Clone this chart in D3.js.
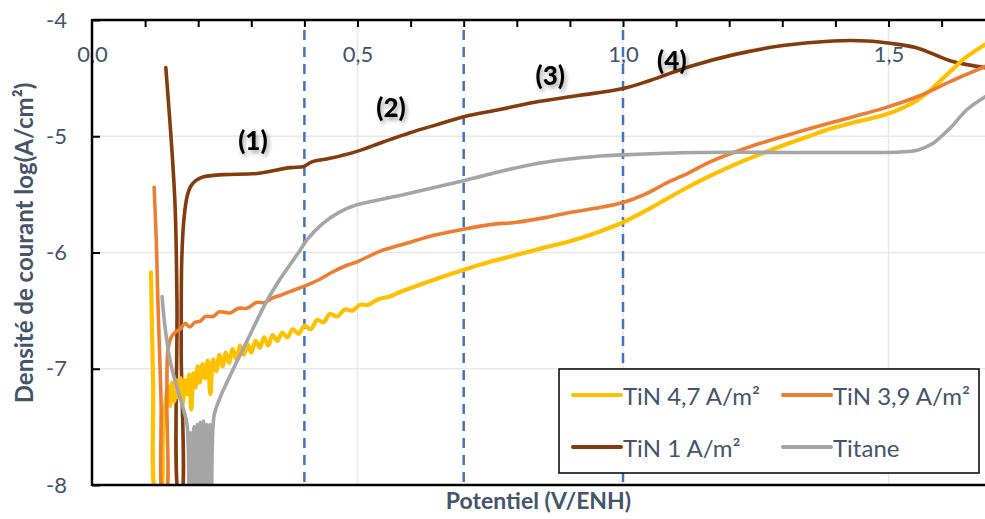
<!DOCTYPE html>
<html><head><meta charset="utf-8">
<script src="https://cdn.jsdelivr.net/npm/d3@7"></script>
<style>body{margin:0;background:#fff}svg{display:block}text{font-family:Lato,"Open Sans",sans-serif}</style>
</head><body><svg id="chart" width="985" height="519"></svg>
<script>
// ---------- data ----------
const xMinorTicks = [0.1,0.2,0.3,0.4,0.5,0.6,0.7,0.8,0.9,1.0,1.1,1.2,1.3,1.4,1.5,1.6];
const xTicks = [0, 0.5, 1.0, 1.5];
const xTickLabels = ["0,0", "0,5", "1,0", "1,5"];
const yTicks = [-8, -7, -6, -5, -4];
const yTickLabels = ["-8", "-7", "-6", "-5", "-4"];
const seriesNames = ["TiN 4,7 A/m²", "TiN 3,9 A/m²", "TiN 1 A/m²", "Titane"];
const dashedPotentials = [0.4, 0.7, 1.0];
const zoneLabels = ["(1)", "(2)", "(3)", "(4)"];
const zoneX = [0.303, 0.563, 0.863, 1.092];
const zoneY = [-5.03, -4.75, -4.47, -4.34];

const tin47 = [
  [0.111,-6.17],[0.115,-7.10],[0.121,-8.1],[0.128,-8.1],[0.134,-7.53],[0.139,-7.27],
  [0.143,-7.15],[0.147,-7.32],[0.151,-7.12],[0.155,-7.28],[0.159,-7.10],[0.163,-7.25],
  [0.167,-7.08],[0.171,-7.30],[0.175,-7.10],[0.179,-7.22],[0.183,-7.05],[0.187,-7.35],
  [0.191,-7.04],[0.195,-7.16],[0.199,-6.98],[0.203,-7.12],[0.208,-6.96],[0.213,-7.08],
  [0.218,-6.93],[0.223,-7.22],[0.228,-6.92],[0.234,-7.02],[0.240,-6.88],[0.246,-6.98],
  [0.252,-6.86],[0.258,-6.95],[0.265,-6.83],[0.272,-6.92],[0.279,-6.80],[0.286,-6.88],
  [0.293,-6.79],[0.300,-6.86],[0.308,-6.76],[0.316,-6.82],[0.324,-6.73],[0.332,-6.80],
  [0.340,-6.71],[0.349,-6.76],[0.358,-6.69],[0.368,-6.73],[0.378,-6.66],[0.389,-6.70],
  [0.400,-6.63],[0.412,-6.66],[0.424,-6.58],[0.436,-6.60],[0.448,-6.53],[0.462,-6.55],
  [0.476,-6.49],[0.490,-6.50],[0.505,-6.45],[0.520,-6.45],[0.540,-6.40],[0.560,-6.38],
  [0.580,-6.34],[0.640,-6.24],[0.699,-6.15],[0.750,-6.08],[0.800,-6.02],[0.850,-5.96],
  [0.895,-5.91],[0.950,-5.83],[1.000,-5.74],[1.051,-5.62],[1.113,-5.46],[1.160,-5.35],
  [1.207,-5.25],[1.255,-5.16],[1.301,-5.08],[1.350,-5.00],[1.395,-4.93],[1.445,-4.87],
  [1.490,-4.82],[1.525,-4.76],[1.554,-4.69],[1.580,-4.60],[1.603,-4.50],[1.622,-4.42],
  [1.640,-4.34],[1.682,-4.21]
];
const tin39 = [
  [0.117,-5.44],[0.121,-5.89],[0.124,-6.41],[0.130,-7.27],[0.134,-8.1],[0.139,-8.1],
  [0.141,-7.27],[0.143,-6.84],[0.149,-6.73],[0.158,-6.68],[0.166,-6.66],[0.175,-6.61],
  [0.184,-6.64],[0.194,-6.60],[0.204,-6.59],[0.214,-6.55],[0.228,-6.55],[0.240,-6.51],
  [0.260,-6.52],[0.276,-6.48],[0.292,-6.48],[0.310,-6.43],[0.326,-6.43],[0.340,-6.39],
  [0.354,-6.37],[0.382,-6.32],[0.405,-6.28],[0.429,-6.23],[0.452,-6.17],[0.480,-6.11],
  [0.499,-6.08],[0.542,-5.99],[0.593,-5.92],[0.646,-5.85],[0.699,-5.80],[0.750,-5.76],
  [0.800,-5.74],[0.853,-5.70],[0.895,-5.66],[0.947,-5.62],[1.000,-5.57],[1.041,-5.50],
  [1.083,-5.40],[1.126,-5.31],[1.164,-5.22],[1.239,-5.09],[1.333,-4.96],[1.427,-4.84],
  [1.490,-4.76],[1.554,-4.66],[1.616,-4.53],[1.682,-4.40]
];
const tin1 = [
  [0.139,-4.41],[0.156,-5.55],[0.160,-6.41],[0.164,-8.1],[0.168,-8.1],[0.168,-6.84],
  [0.169,-6.07],[0.173,-5.72],[0.179,-5.52],[0.186,-5.43],[0.196,-5.38],[0.209,-5.35],
  [0.247,-5.33],[0.311,-5.32],[0.373,-5.27],[0.399,-5.26],[0.414,-5.22],[0.448,-5.19],
  [0.499,-5.13],[0.548,-5.05],[0.599,-4.97],[0.650,-4.90],[0.702,-4.83],[0.768,-4.77],
  [0.831,-4.71],[0.915,-4.65],[1.000,-4.59],[1.051,-4.52],[1.126,-4.40],[1.207,-4.30],
  [1.301,-4.22],[1.395,-4.18],[1.460,-4.18],[1.503,-4.20],[1.554,-4.24],[1.616,-4.35],
  [1.682,-4.41]
];
const titane = [
  [0.132,-6.38],[0.137,-6.62],[0.147,-6.93],[0.160,-7.16],[0.171,-7.33],[0.179,-7.48],
  [0.183,-8.1],[0.186,-7.55],[0.189,-8.1],[0.192,-7.50],[0.195,-8.1],[0.198,-7.48],
  [0.201,-8.1],[0.204,-7.46],[0.207,-8.1],[0.210,-7.45],[0.213,-8.1],[0.216,-7.48],
  [0.219,-8.1],[0.222,-7.48],[0.225,-8.1],[0.230,-7.40],[0.241,-7.25],[0.260,-7.06],
  [0.292,-6.76],[0.330,-6.41],[0.354,-6.23],[0.392,-5.98],[0.405,-5.89],[0.435,-5.75],
  [0.467,-5.65],[0.499,-5.59],[0.580,-5.51],[0.702,-5.38],[0.831,-5.24],[0.957,-5.17],
  [1.000,-5.16],[1.145,-5.14],[1.395,-5.14],[1.522,-5.135],[1.554,-5.12],[1.584,-5.06],
  [1.616,-4.93],[1.648,-4.77],[1.682,-4.66]
];
const seriesData = [tin47, tin39, tin1, titane];
const seriesColors = ["#FFC000", "#ED7D31", "#843C0C", "#A5A5A5"];

// ---------- layout ----------
const W = 985, H = 519;
const L = 92, T = 20, B = 485, R = 985;
const svg = d3.select("#chart");
const x = d3.scaleLinear().domain([0, 1.7]).range([L, L + 1.7 * 531]);
const y = d3.scaleLinear().domain([-8, -4]).range([B, T]);
const textCol = "#44546A";

const defs = svg.append("defs");
defs.append("clipPath").attr("id", "clip").append("rect")
  .attr("x", L).attr("y", T).attr("width", R - L).attr("height", B - T);
const f = defs.append("filter").attr("id", "shadow").attr("x", "-50%").attr("y", "-50%").attr("width", "200%").attr("height", "200%");
f.append("feDropShadow").attr("dx", 2).attr("dy", 3).attr("stdDeviation", 2)
  .attr("flood-color", "#000").attr("flood-opacity", 0.35);

// gridlines
svg.append("g").selectAll("line").data([-7, -6, -5]).join("line")
  .attr("x1", L).attr("x2", R).attr("y1", d => y(d)).attr("y2", d => y(d))
  .attr("stroke", "#E8E8E8").attr("stroke-width", 1.5);
svg.append("g").selectAll("line").data([0.5, 1.0, 1.5]).join("line")
  .attr("x1", d => x(d)).attr("x2", d => x(d)).attr("y1", T).attr("y2", B)
  .attr("stroke", "#E8E8E8").attr("stroke-width", 1.5);

// dashed zone separators
svg.append("g").selectAll("line").data(dashedPotentials).join("line")
  .attr("x1", d => x(d)).attr("x2", d => x(d)).attr("y1", T + 10).attr("y2", B + 2)
  .attr("stroke", "#4472C4").attr("stroke-width", 2.5).attr("stroke-dasharray", "10,7");

// series
const line = d3.line().x(d => x(d[0])).y(d => y(d[1])).curve(d3.curveCatmullRom.alpha(0.5));
const drawOrder = [2, 0, 1, 3];
const gS = svg.append("g").attr("clip-path", "url(#clip)");
drawOrder.forEach(i => {
  gS.append("path").datum(seriesData[i]).attr("d", line)
    .attr("fill", "none").attr("stroke", seriesColors[i]).attr("stroke-width", i === 0 ? 4.2 : 3.6)
    .attr("stroke-linejoin", "round").attr("stroke-linecap", "round");
});

// axes
const topAxis = svg.append("g").attr("transform", `translate(0,${T})`)
  .call(d3.axisBottom(x).tickValues(xMinorTicks).tickSize(7).tickFormat(""));
topAxis.select(".domain").remove();
topAxis.selectAll(".tick line").attr("stroke", "#000").attr("stroke-width", 2);
const xLab = svg.append("g").attr("transform", `translate(0,${T})`)
  .call(d3.axisBottom(x).tickValues(xTicks).tickSize(0).tickPadding(26).tickFormat((d, i) => xTickLabels[i]));
xLab.select(".domain").remove();
xLab.selectAll("text").attr("fill", textCol).style("font-size", "22px").style("font-family", "Lato");

const yAx = svg.append("g").attr("transform", `translate(${L},0)`)
  .call(d3.axisRight(y).tickValues(yTicks).tickSize(8).tickFormat(""));
yAx.select(".domain").remove();
yAx.selectAll(".tick line").attr("stroke", "#000").attr("stroke-width", 2);
const yLab = svg.append("g").attr("transform", `translate(${L},0)`)
  .call(d3.axisLeft(y).tickValues(yTicks).tickSize(0).tickPadding(25).tickFormat((d, i) => yTickLabels[i]));
yLab.select(".domain").remove();
yLab.selectAll("text").attr("fill", textCol).style("font-size", "22px").style("font-family", "Lato");

// frame lines
svg.append("line").attr("x1", L).attr("x2", R).attr("y1", T).attr("y2", T).attr("stroke", "#000").attr("stroke-width", 2.5);
svg.append("line").attr("x1", L).attr("x2", R).attr("y1", B).attr("y2", B).attr("stroke", "#000").attr("stroke-width", 2.5);
svg.append("line").attr("x1", L).attr("x2", L).attr("y1", T - 1).attr("y2", B + 1).attr("stroke", "#000").attr("stroke-width", 2.5);

// zone labels
svg.append("g").selectAll("text").data(zoneLabels).join("text")
  .attr("x", (d, i) => x(zoneX[i])).attr("y", (d, i) => y(zoneY[i]))
  .attr("text-anchor", "middle").attr("dominant-baseline", "central")
  .attr("font-weight", "900").style("font-size", "26px").attr("fill", "#000")
  .attr("filter", "url(#shadow)").text(d => d);

// axis titles
svg.append("text").attr("x", (L + R) / 2).attr("y", 500)
  .attr("text-anchor", "middle").attr("dominant-baseline", "central")
  .attr("font-weight", "bold").style("font-size", "23px").attr("fill", textCol)
  .text("Potentiel (V/ENH)");
svg.append("text").attr("transform", "translate(23,243) rotate(-90)")
  .attr("text-anchor", "middle").attr("dominant-baseline", "central")
  .attr("font-weight", "bold").style("font-size", "24px").attr("fill", textCol)
  .text("Densité de courant log(A/cm²)");

// legend
const lg = svg.append("g");
lg.append("rect").attr("x", 559).attr("y", 369).attr("width", 420).attr("height", 104)
  .attr("fill", "#fff").attr("stroke", "#000").attr("stroke-width", 1.5);
const legPos = [[573, 395], [783, 395], [573, 447], [783, 447]];
seriesNames.forEach((n, i) => {
  const [lx, ly] = legPos[i];
  lg.append("line").attr("x1", lx).attr("x2", lx + 48).attr("y1", ly).attr("y2", ly)
    .attr("stroke", seriesColors[i]).attr("stroke-width", 4).attr("stroke-linecap", "round");
  lg.append("text").attr("x", lx + 50).attr("y", ly).attr("dominant-baseline", "central")
    .style("font-size", "24px").attr("fill", textCol).text(n);
});
</script></body></html>
